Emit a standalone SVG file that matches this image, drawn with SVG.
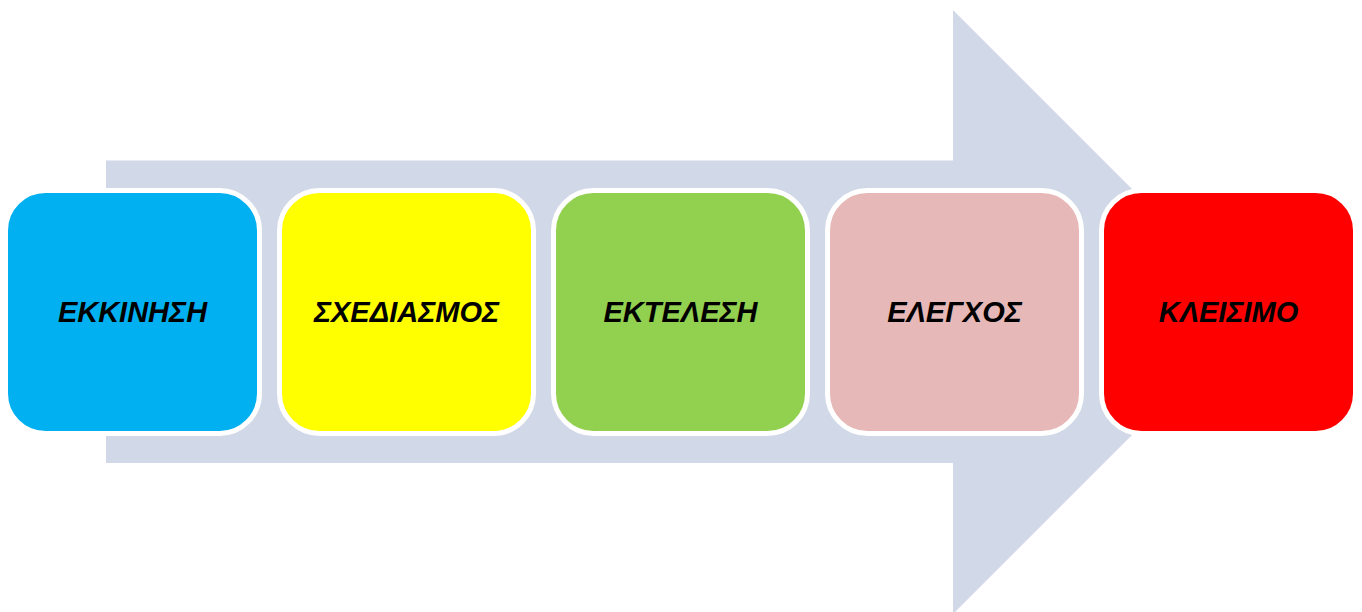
<svg xmlns="http://www.w3.org/2000/svg" width="1362" height="612" viewBox="0 0 1362 612">
  <style>
    .step { stroke: #FFFFFF; stroke-width: 5; }
    .label { font-family: "Liberation Sans", Arial, sans-serif; font-size: 29px; font-weight: bold; font-style: italic; fill: #000000; text-anchor: middle; }
  </style>
  <rect width="1362" height="612" fill="#FFFFFF"/>
  <!-- background process arrow -->
  <g id="arrow-bg">
    <polygon points="106,160.5 953,160.5 953,10 1255,312 953,614 953,463 106,463" fill="#D1D8E8"/>
  </g>
  <g id="connectors"></g>
  <g id="node-start">
    <rect class="step" x="5.5" y="190.5" width="254" height="243" rx="40" ry="40" fill="#00B0F0"/>
    <text class="label" x="132.5" y="322">ΕΚΚΙΝΗΣΗ</text>
  </g>
  <g id="node-planning">
    <rect class="step" x="279.5" y="190.5" width="254" height="243" rx="40" ry="40" fill="#FFFF00"/>
    <text class="label" x="406.5" y="322">ΣΧΕΔΙΑΣΜΟΣ</text>
  </g>
  <g id="node-execution">
    <rect class="step" x="553.5" y="190.5" width="254" height="243" rx="40" ry="40" fill="#92D050"/>
    <text class="label" x="680.5" y="322">ΕΚΤΕΛΕΣΗ</text>
  </g>
  <g id="node-control">
    <rect class="step" x="827.5" y="190.5" width="254" height="243" rx="40" ry="40" fill="#E6B8B7"/>
    <text class="label" x="954.5" y="322">ΕΛΕΓΧΟΣ</text>
  </g>
  <g id="node-closing">
    <rect class="step" x="1101.5" y="190.5" width="254" height="243" rx="40" ry="40" fill="#FF0000"/>
    <text class="label" x="1228.5" y="322">ΚΛΕΙΣΙΜΟ</text>
  </g>
</svg>
